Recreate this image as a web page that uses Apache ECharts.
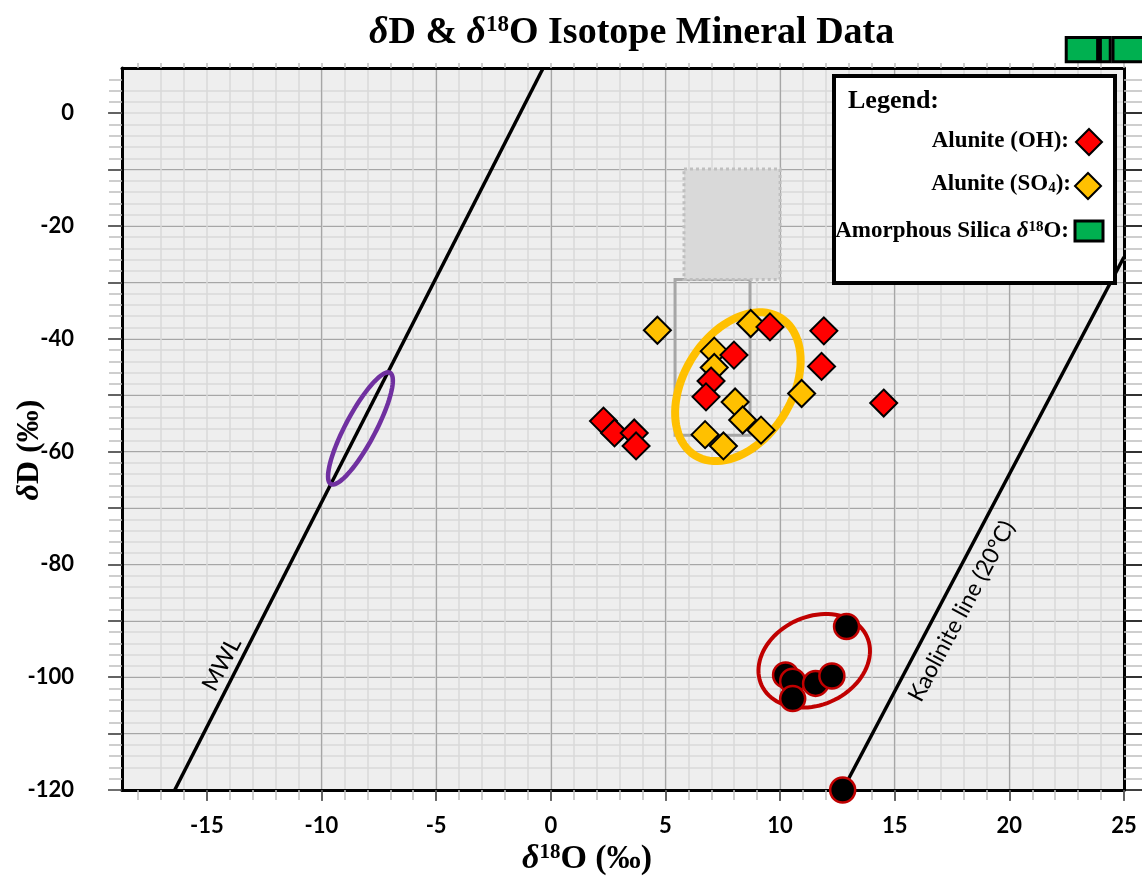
<!DOCTYPE html>
<html><head><meta charset="utf-8">
<script src="https://cdn.jsdelivr.net/npm/echarts@6/dist/echarts.min.js"></script>
<style>html,body{margin:0;padding:0;background:#fff}#c{width:1142px;height:881px}</style>
</head><body><div id="c"></div>
<script>
// ---------- data ----------
const xTickLabels = [-15, -10, -5, 0, 5, 10, 15, 20, 25];
const yTickLabels = [0, -20, -40, -60, -80, -100, -120];
const yMajorTicks = [0, -10, -20, -30, -40, -50, -60, -70, -80, -90, -100, -110, -120];
const xRange = [-18.7, 25];
const yRange = [-120, 8];
const alunOH = [[9.56,-37.9],[11.91,-38.6],[7.99,-42.9],[11.81,-44.9],[6.99,-47.5],[6.77,-50.3],[14.52,-51.4],[2.30,-54.6],[2.78,-56.7],[3.64,-56.7],[3.72,-59.0]];
const alunSO4 = [[4.65,-38.5],[8.72,-37.3],[7.13,-42.2],[7.13,-45.1],[10.94,-49.7],[8.04,-51.2],[8.37,-54.4],[9.17,-56.2],[6.73,-57.0],[7.53,-59.0]];
const clayPts = [[12.90,-91.0],[10.24,-99.6],[10.55,-100.7],[11.55,-101.1],[12.26,-99.8],[10.55,-103.8],[12.73,-120]];
const mwlLine = [[-16.4,-120],[-0.33,8]];
const kaolLine = [[12.73,-120],[25,-25.5]];
const silicaBars = [[22.48,23.85,9.1,13.4],[23.97,24.40,9.1,13.4],[24.52,26.5,9.1,13.4]];
const boxSolid = [[5.42,8.69,-57.1,-29.5]];
const boxDotted = [[5.81,10.0,-29.5,-9.9]];
const ellipseCenters = [[-8.3,-55.9],[8.16,-48.5],[11.49,-97.1]];
const lineLabels = ['MWL', 'Kaolinite line (20°C)'];
const lineLabelPos = [[-14.35,-97.7],[17.92,-88.3]];

// ---------- derived tick lists ----------
const xMinor = []; for (let v = -18; v <= 25; v++) xMinor.push(v);
const yMinor = []; for (let v = -118; v <= 6; v += 2) yMinor.push(v);

// ---------- styles ----------
const ellipseStyles = [
  {a: 63, b: 15, ang: 62, color: '#7030a0', w: 4.5},
  {a: 81, b: 54, ang: 58, color: '#ffc000', w: 8},
  {a: 58, b: 44, ang: 25, color: '#c00000', w: 4}
];
const serif = '"Liberation Serif", "Times New Roman", serif';
const sans = 'Lato, "Open Sans", sans-serif';
const tickFont = {fontFamily: sans, fontWeight: 'bold', fontSize: 22, color: '#000'};

const chart = echarts.init(document.getElementById('c'));
const xBase = {type: 'value', min: xRange[0], max: xRange[1]};
const yBase = {type: 'value', min: yRange[0], max: yRange[1]};

function rectItem(api, st) {
  const p0 = api.coord([api.value(0), api.value(3)]);
  const p1 = api.coord([api.value(1), api.value(2)]);
  return {type: 'rect', shape: {x: p0[0], y: p0[1], width: p1[0] - p0[0], height: p1[1] - p0[1]}, style: st};
}

chart.setOption({
  animation: false,
  backgroundColor: '#fff',
  title: {
    text: '{i|δ}D & {i|δ}{sup|18}O Isotope Mineral Data',
    left: 364, top: 9,
    textStyle: {
      fontFamily: serif, fontWeight: 'bold', fontSize: 38, color: '#000',
      rich: {
        i: {fontFamily: serif, fontWeight: 'bold', fontStyle: 'italic', fontSize: 38, color: '#000'},
        sup: {fontFamily: serif, fontWeight: 'bold', fontSize: 23, color: '#000', verticalAlign: 'top'}
      }
    }
  },
  grid: {left: 122, right: 18, top: 68, bottom: 91, show: true, backgroundColor: '#eeeeee', borderWidth: 0,
    containLabel: false, outerBoundsMode: 'none'},
  xAxis: [
    Object.assign({}, xBase, {position: 'bottom',
      axisLine: {onZero: false, lineStyle: {color: '#000', width: 3}},
      axisTick: {customValues: xMinor, length: 10, lineStyle: {color: '#bfbfbf', width: 1.5}},
      axisLabel: {show: false},
      splitLine: {show: true, showMinLine: false, showMaxLine: false, lineStyle: {color: '#d9d9d9', width: 1.5}}}),
    Object.assign({}, xBase, {position: 'bottom',
      axisLine: {show: false, onZero: false},
      axisTick: {customValues: xTickLabels, length: 11, lineStyle: {color: '#404040', width: 1.5}},
      axisLabel: Object.assign({customValues: xTickLabels, margin: 25}, tickFont),
      splitLine: {show: true, showMinLine: false, showMaxLine: false, lineStyle: {color: '#a6a6a6', width: 1.2}},
      name: '{i|δ}{sup|18}O (‰)', nameLocation: 'middle', nameGap: 52, nameMoveOverlap: false,
      nameTextStyle: {fontFamily: serif, fontWeight: 'bold', fontSize: 34, color: '#000', padding: [0, 72, 0, 0],
        rich: {
          i: {fontFamily: serif, fontWeight: 'bold', fontStyle: 'italic', fontSize: 34, color: '#000'},
          sup: {fontFamily: serif, fontWeight: 'bold', fontSize: 21, color: '#000', verticalAlign: 'top'}
        }}}),
    Object.assign({}, xBase, {position: 'top',
      axisLine: {onZero: false, lineStyle: {color: '#000', width: 3}},
      axisTick: {customValues: xMinor, length: 5, lineStyle: {color: '#bfbfbf', width: 1.5}},
      axisLabel: {show: false}, splitLine: {show: false}})
  ],
  yAxis: [
    Object.assign({}, yBase, {position: 'left',
      axisLine: {onZero: false, lineStyle: {color: '#000', width: 3}},
      axisTick: {customValues: yMinor, length: 13, lineStyle: {color: '#bfbfbf', width: 1.5}},
      axisLabel: {show: false},
      splitLine: {show: true, showMinLine: false, showMaxLine: false, lineStyle: {color: '#d9d9d9', width: 1.5}}}),
    Object.assign({}, yBase, {position: 'left',
      axisLine: {show: false, onZero: false},
      axisTick: {customValues: yMajorTicks, length: 14, lineStyle: {color: '#404040', width: 1.5}},
      axisLabel: Object.assign({customValues: yTickLabels, margin: 48}, tickFont),
      splitLine: {show: true, showMinLine: false, showMaxLine: false, lineStyle: {color: '#a6a6a6', width: 1.2}},
      name: '{i|δ}D (‰)', nameLocation: 'middle', nameGap: 76, nameRotate: 90, nameMoveOverlap: false,
      nameTextStyle: {fontFamily: serif, fontWeight: 'bold', fontSize: 32, color: '#000', padding: [0, 42, 0, 0],
        rich: {i: {fontFamily: serif, fontWeight: 'bold', fontStyle: 'italic', fontSize: 32, color: '#000'}}}}),
    Object.assign({}, yBase, {position: 'right',
      axisLine: {onZero: false, lineStyle: {color: '#000', width: 3}},
      axisTick: {customValues: yMinor, length: 18, lineStyle: {color: '#bfbfbf', width: 1.5}},
      axisLabel: {show: false}, splitLine: {show: false}}),
    Object.assign({}, yBase, {position: 'right',
      axisLine: {show: false, onZero: false},
      axisTick: {customValues: yMajorTicks, length: 18, lineStyle: {color: '#000', width: 1.5}},
      axisLabel: {show: false}, splitLine: {show: false}})
  ],
  series: [
    {name: 'Range (solid)', type: 'custom', z: 1, data: boxSolid, silent: true,
      renderItem: (p, api) => rectItem(api, {fill: 'none', stroke: '#a6a6a6', lineWidth: 3})},
    {name: 'Range (dotted)', type: 'custom', z: 1, data: boxDotted, silent: true,
      renderItem: (p, api) => rectItem(api, {fill: '#d9d9d9', stroke: '#bfbfbf', lineWidth: 3, lineDash: [3, 3]})},
    {name: 'MWL', type: 'line', z: 2, data: mwlLine, symbol: 'none', lineStyle: {color: '#000', width: 3.5}},
    {name: 'Kaolinite line', type: 'line', z: 2, data: kaolLine, symbol: 'none', lineStyle: {color: '#000', width: 3.5}},
    {name: 'Line labels', type: 'custom', z: 2, data: lineLabelPos, silent: true,
      renderItem: (p, api) => {
        const c = api.coord([api.value(0), api.value(1)]);
        return {type: 'text', x: c[0], y: c[1], rotation: 62 * Math.PI / 180,
          style: {text: lineLabels[p.dataIndex], fontFamily: sans, fontSize: 23, fill: '#000', align: 'center', verticalAlign: 'middle'}};
      }},
    {name: 'Fields', type: 'custom', z: 3, data: ellipseCenters, silent: true,
      renderItem: (p, api) => {
        const c = api.coord([api.value(0), api.value(1)]);
        const s = ellipseStyles[p.dataIndex];
        const th = s.ang * Math.PI / 180, pts = [];
        for (let k = 0; k < 90; k++) {
          const t = k / 90 * 2 * Math.PI;
          const ex = s.a * Math.cos(t), ey = s.b * Math.sin(t);
          pts.push([c[0] + ex * Math.cos(th) - ey * Math.sin(th), c[1] - (ex * Math.sin(th) + ey * Math.cos(th))]);
        }
        return {type: 'polygon', shape: {points: pts}, style: {fill: 'none', stroke: s.color, lineWidth: s.w}};
      }},
    {name: 'Alunite (SO4)', type: 'scatter', z: 4, data: alunSO4, symbol: 'diamond', symbolSize: 27,
      itemStyle: {color: '#ffc000', borderColor: '#000', borderWidth: 2, opacity: 1}},
    {name: 'Alunite (OH)', type: 'scatter', z: 5, data: alunOH, symbol: 'diamond', symbolSize: 27,
      itemStyle: {color: '#ff0000', borderColor: '#000', borderWidth: 2, opacity: 1}},
    {name: 'Kaolinite', type: 'scatter', z: 6, data: clayPts, symbol: 'circle', symbolSize: 25,
      itemStyle: {color: '#000', borderColor: '#c00000', borderWidth: 2.5, opacity: 1}},
    {name: 'Amorphous Silica δ18O', type: 'custom', z: 6, data: silicaBars, clip: false, silent: true,
      renderItem: (p, api) => rectItem(api, {fill: '#00b050', stroke: '#000', lineWidth: 3})}
  ],
  graphic: [
    {type: 'rect', z: 100, shape: {x: 834, y: 76, width: 281, height: 207}, style: {fill: '#fff', stroke: '#000', lineWidth: 4}},
    {type: 'text', z: 101, x: 848, y: 101, style: {text: 'Legend:', font: 'bold 26px ' + serif, fill: '#000', verticalAlign: 'middle'}},
    {type: 'text', z: 101, x: 1069, y: 141, style: {text: 'Alunite (OH):', font: 'bold 23px ' + serif, fill: '#000', align: 'right', verticalAlign: 'middle'}},
    {type: 'polygon', z: 101, shape: {points: [[1089, 129], [1102, 142], [1089, 155], [1076, 142]]}, style: {fill: '#ff0000', stroke: '#000', lineWidth: 2}},
    {type: 'text', z: 101, x: 1071, y: 184, style: {text: 'Alunite (SO{sub|4}):', font: 'bold 23px ' + serif, fill: '#000', align: 'right', verticalAlign: 'middle',
      rich: {sub: {fontFamily: serif, fontWeight: 'bold', fontSize: 15, fill: '#000', verticalAlign: 'bottom'}}}},
    {type: 'polygon', z: 101, shape: {points: [[1088, 173], [1101, 186], [1088, 199], [1075, 186]]}, style: {fill: '#ffc000', stroke: '#000', lineWidth: 2}},
    {type: 'text', z: 101, x: 1069, y: 231, style: {text: 'Amorphous Silica {i|δ}{sup|18}O:', font: 'bold 23px ' + serif, fill: '#000', align: 'right', verticalAlign: 'middle',
      rich: {i: {fontFamily: serif, fontWeight: 'bold', fontStyle: 'italic', fontSize: 23, fill: '#000'},
             sup: {fontFamily: serif, fontWeight: 'bold', fontSize: 15, fill: '#000', verticalAlign: 'top'}}}},
    {type: 'rect', z: 101, shape: {x: 1075, y: 221, width: 28, height: 20}, style: {fill: '#00b050', stroke: '#000', lineWidth: 3}}
  ]
});
</script></body></html>
